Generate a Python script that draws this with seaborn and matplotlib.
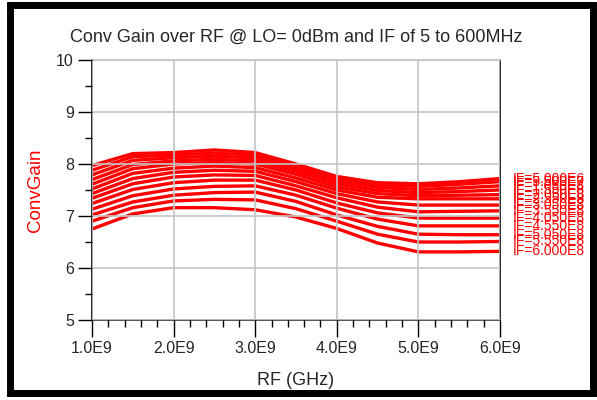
import numpy as np
import pandas as pd
import matplotlib
matplotlib.use('Agg')
import matplotlib.pyplot as plt
import seaborn as sns
from matplotlib.ticker import MultipleLocator, FuncFormatter
from matplotlib.patches import Rectangle

sns.set_style('white')
plt.rcParams['font.family'] = ['Liberation Sans', 'DejaVu Sans']

# RF sweep (Hz) and IF values (labels)
rf_hz = [1.0e9, 1.5e9, 2.0e9, 2.5e9, 3.0e9, 3.5e9, 4.0e9, 4.5e9, 5.0e9, 5.5e9, 6.0e9]
if_labels = ['IF=5.000E6', 'IF=5.500E7', 'IF=1.050E8', 'IF=1.550E8', 'IF=2.050E8',
             'IF=2.550E8', 'IF=3.050E8', 'IF=3.550E8', 'IF=4.050E8', 'IF=4.550E8',
             'IF=5.050E8', 'IF=5.550E8', 'IF=6.000E8']

# conversion gain (dB), one row per IF, one column per RF point
gain_if005 = [7.97, 8.20, 8.22, 8.27, 8.22, 8.00, 7.76, 7.64, 7.62, 7.66, 7.72]
gain_if055 = [7.88, 8.14, 8.17, 8.21, 8.17, 7.96, 7.72, 7.60, 7.57, 7.61, 7.66]
gain_if105 = [7.79, 8.07, 8.12, 8.15, 8.12, 7.91, 7.67, 7.55, 7.51, 7.54, 7.58]
gain_if155 = [7.70, 7.99, 8.06, 8.09, 8.06, 7.86, 7.62, 7.49, 7.45, 7.47, 7.50]
gain_if205 = [7.61, 7.91, 8.00, 8.03, 8.00, 7.80, 7.56, 7.43, 7.39, 7.40, 7.41]
gain_if255 = [7.52, 7.82, 7.92, 7.96, 7.93, 7.73, 7.50, 7.36, 7.33, 7.33, 7.33]
gain_if305 = [7.43, 7.72, 7.84, 7.88, 7.86, 7.66, 7.43, 7.27, 7.21, 7.21, 7.21]
gain_if355 = [7.34, 7.62, 7.75, 7.79, 7.78, 7.58, 7.35, 7.17, 7.08, 7.09, 7.10]
gain_if405 = [7.24, 7.51, 7.64, 7.69, 7.69, 7.50, 7.25, 7.06, 6.96, 6.96, 6.96]
gain_if455 = [7.13, 7.39, 7.52, 7.57, 7.58, 7.40, 7.15, 6.94, 6.81, 6.81, 6.81]
gain_if505 = [7.02, 7.27, 7.40, 7.45, 7.46, 7.28, 7.02, 6.80, 6.65, 6.64, 6.64]
gain_if555 = [6.90, 7.16, 7.29, 7.32, 7.31, 7.14, 6.90, 6.65, 6.50, 6.50, 6.51]
gain_if600 = [6.75, 7.04, 7.16, 7.16, 7.12, 6.98, 6.76, 6.48, 6.31, 6.31, 6.32]

gains = [gain_if005, gain_if055, gain_if105, gain_if155, gain_if205, gain_if255,
         gain_if305, gain_if355, gain_if405, gain_if455, gain_if505, gain_if555,
         gain_if600]

df = pd.DataFrame({
    'rf': np.tile(rf_hz, len(if_labels)),
    'gain': np.concatenate(gains),
    'if': np.repeat(if_labels, len(rf_hz)),
})

fig = plt.figure(figsize=(5.97, 4.0), dpi=100)
ax = fig.add_axes([92 / 597, 1 - 320 / 400, 408 / 597, 260 / 400])

sns.lineplot(data=df, x='rf', y='gain', hue='if', hue_order=if_labels,
             palette=['#ff0000'] * len(if_labels), linewidth=2.4,
             legend=False, ax=ax, sort=False)

ax.set_xlim(1.0e9, 6.0e9)
ax.set_ylim(5, 10)
ax.xaxis.set_major_locator(MultipleLocator(1.0e9))
ax.xaxis.set_minor_locator(MultipleLocator(0.2e9))
ax.yaxis.set_major_locator(MultipleLocator(1))
ax.yaxis.set_minor_locator(MultipleLocator(0.5))
ax.xaxis.set_major_formatter(FuncFormatter(lambda v, p: f'{v / 1e9:.1f}E9'))

# grid on top of the traces, like the ADS display
ax.set_axisbelow(False)
ax.grid(True, which='major', color='#c4c4c4', linewidth=1.2)
ax.tick_params(which='major', direction='out', length=10, width=1.0, color='black',
               labelsize=11.5, bottom=True, left=True, pad=3)
ax.tick_params(which='minor', direction='out', length=5, width=1.0, color='black',
               bottom=True, left=True)
ax.tick_params(axis='x', which='major', length=12)

for side in ['left', 'right']:
    ax.spines[side].set_color('black')
    ax.spines[side].set_linewidth(1.2)
ax.spines['bottom'].set_color('#555555')
ax.spines['bottom'].set_linewidth(1.4)
ax.spines['top'].set_color('#c4c4c4')
ax.spines['top'].set_linewidth(1.2)

ax.set_xlabel('RF (GHz)', fontsize=13)
ax.xaxis.set_label_coords(0.5, -0.2)
ax.set_ylabel('ConvGain', fontsize=13.5, color='#ff0000')
ax.yaxis.set_label_coords(-0.118, 0.5)
ax.set_title('Conv Gain over RF @ LO= 0dBm and IF of 5 to 600MHz', fontsize=13, pad=13)

# trace labels at the right end of each curve
for lab, g in zip(if_labels, gains):
    ax.text(6.0e9 + 0.16e9, g[-1], lab, color='#ff0000', fontsize=10,
            va='center', ha='left', clip_on=False)

# black frame around the whole picture
fig.patches.append(Rectangle((10 / 597, 7.5 / 400), 583 / 597, 388 / 400,
                             transform=fig.transFigure, fill=False,
                             edgecolor='black', linewidth=5, zorder=10))

fig.savefig('out.png', dpi=100)
